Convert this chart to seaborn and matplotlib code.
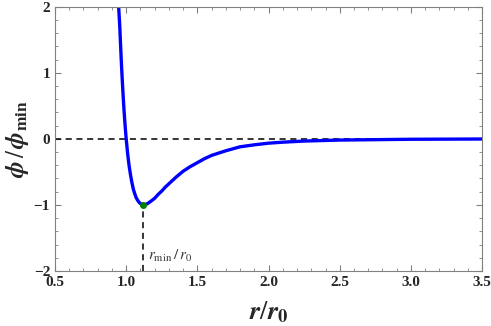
import seaborn as sns
import pandas as pd
import matplotlib
matplotlib.use("Agg")
import matplotlib.pyplot as plt
from matplotlib.ticker import MultipleLocator

# values
r_vals = [0.947, 0.955, 0.96, 0.965, 0.97, 0.975, 0.98, 0.985, 0.99, 0.995, 1.00,
          1.01, 1.02, 1.03, 1.04, 1.05, 1.06, 1.07, 1.08, 1.09, 1.10, 1.11, 1.12,
          1.13, 1.14, 1.15, 1.17, 1.20, 1.225, 1.25, 1.275, 1.30, 1.35, 1.40, 1.45,
          1.50, 1.55, 1.60, 1.70, 1.80, 1.90, 2.00, 2.10, 2.25, 2.50, 3.00, 3.50]
phi_vals = [2.0, 1.70, 1.45, 1.21, 0.99, 0.79, 0.60, 0.43, 0.27, 0.13, 0.0,
            -0.22, -0.40, -0.54, -0.66, -0.76, -0.83, -0.89, -0.93, -0.96, -0.98, -0.995, -1.0,
            -0.998, -0.99, -0.98, -0.95, -0.90, -0.84, -0.79, -0.73, -0.68, -0.58, -0.49, -0.42,
            -0.36, -0.30, -0.25, -0.18, -0.12, -0.09, -0.065, -0.05, -0.033, -0.018, -0.006, -0.002]
r_min = 1.12
phi_min = -1.0

df = pd.DataFrame({"r": r_vals, "phi": phi_vals})

sns.set_style("ticks")
plt.rcParams["font.family"] = ["Liberation Serif", "DejaVu Serif"]
plt.rcParams["mathtext.fontset"] = "stix"

fig = plt.figure(figsize=(4.91, 3.26), dpi=100)
ax = fig.add_axes([0.112, 0.169, 0.870, 0.810])

ax.axhline(0, color="black", ls=(0, (4, 3)), lw=1.1, zorder=1)
ax.plot([r_min, r_min], [-2, phi_min], color="black", ls=(0, (4, 3)), lw=1.1, zorder=1)
sns.lineplot(data=df, x="r", y="phi", color="#0000ff", lw=2.4, ax=ax, zorder=2,
             solid_joinstyle="round")
ax.plot([r_min], [phi_min], "o", color="#008000", ms=4, zorder=3)
ax.text(1.15, -1.83, r"$r_{\rm min}\,/\,r_0$", fontsize=11, color="#333333")

ax.set_xlim(0.5, 3.5)
ax.set_ylim(-2, 2)
ax.xaxis.set_major_locator(MultipleLocator(0.5))
ax.xaxis.set_minor_locator(MultipleLocator(0.1))
ax.yaxis.set_major_locator(MultipleLocator(1))
ax.yaxis.set_minor_locator(MultipleLocator(0.2))
ax.tick_params(which="both", direction="in", top=True, right=True, color="#808080")
ax.tick_params(which="major", length=4, labelsize=11)
ax.tick_params(which="minor", length=2)
for lab in ax.get_xticklabels() + ax.get_yticklabels():
    lab.set_fontweight("bold")
for s in ax.spines.values():
    s.set_color("#808080")

ax.set_xlabel(r"$\mathbfit{r}/\mathbfit{r}_{\mathbf{0}}$", fontsize=19, labelpad=8)
ax.set_ylabel(r"$\mathbfit{\phi}\,/\,\mathbfit{\phi}_{\mathbf{min}}$", fontsize=18, labelpad=2)

fig.savefig("out.png", dpi=100)
